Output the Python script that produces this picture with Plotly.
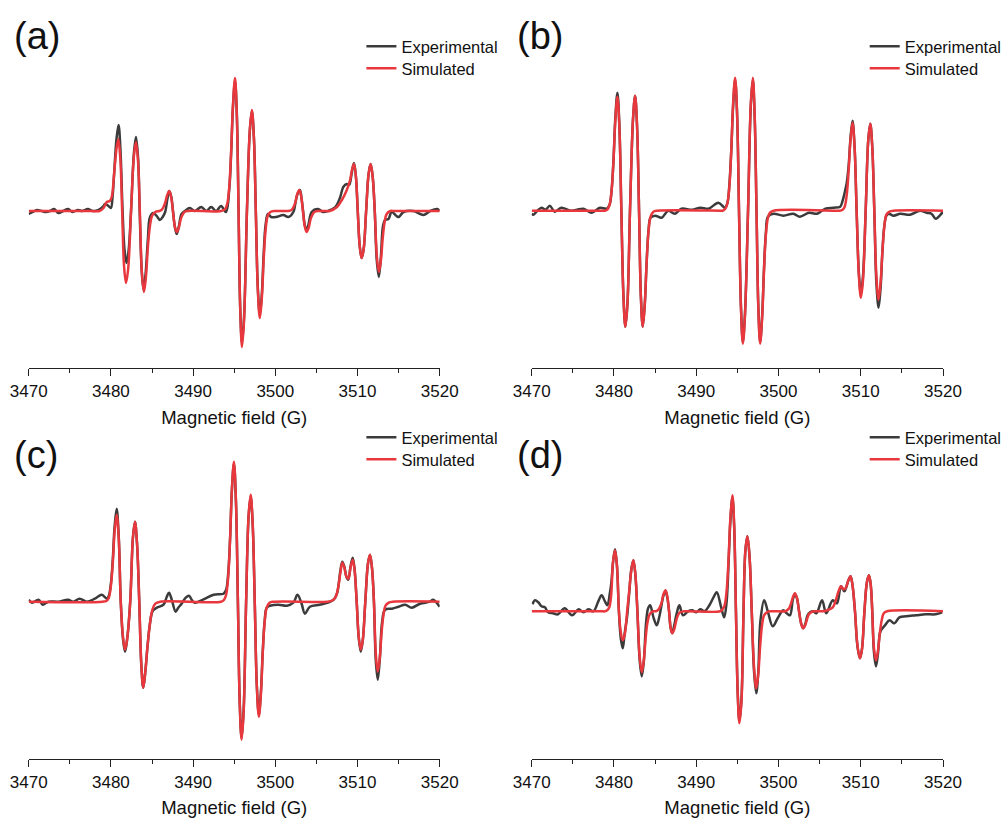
import plotly.graph_objects as go

# ---------------- data (field in G, intensity in a.u.) ----------------
a_exp = [(3470.0, -3), (3470.5, -1), (3471.0, 1), (3471.6, 0), (3472.1, -1), (3472.6, 0), (3473.1, 2),
         (3473.6, -2), (3474.2, 0), (3474.8, 2), (3475.3, -1), (3476.0, 1), (3476.5, 0), (3477.2, 2),
         (3477.8, 0), (3478.5, 1), (3479.0, 4), (3479.3, 7), (3479.7, 5), (3480.0, 3), (3480.2, 14),
         (3480.43, 42), (3480.68, 72), (3480.93, 86), (3481.17, 60), (3481.4, 5), (3481.65, -38),
         (3481.9, -52), (3482.15, -40), (3482.45, 0), (3482.8, 58), (3483.05, 74), (3483.3, 54),
         (3483.5, 0), (3483.75, -60), (3483.98, -79), (3484.23, -62), (3484.5, -28), (3484.76, -6),
         (3485.16, -2), (3485.57, -5), (3485.97, -9), (3486.3, -6), (3486.6, -1), (3486.87, 12),
         (3487.1, 20), (3487.35, 14), (3487.55, 0), (3487.78, -16), (3488.0, -23), (3488.25, -16),
         (3488.6, -3), (3489.0, 0), (3489.6, 3), (3490.2, 0), (3491.0, 4), (3491.6, 0), (3492.2, 4),
         (3492.8, 0), (3493.4, 5), (3494.0, -1), (3494.4, 22), (3494.63, 58), (3494.85, 104),
         (3495.1, 130), (3495.33, 95), (3495.53, 0), (3495.73, -97), (3495.95, -132), (3496.2, -106),
         (3496.55, 0), (3496.9, 80), (3497.15, 100), (3497.4, 73), (3497.63, 0), (3497.87, -76),
         (3498.12, -104), (3498.37, -82), (3498.59, -42), (3498.82, -14), (3499.1, -3), (3499.5, -6),
         (3500.1, -6), (3500.97, -4), (3501.6, -6), (3502.2, -1), (3502.45, 8), (3502.7, 17),
         (3503.0, 21), (3503.2, 12), (3503.38, 0), (3503.58, -14), (3503.8, -19), (3504.05, -13),
         (3504.43, -1), (3505.2, 2), (3505.8, -1), (3506.4, 0), (3507.3, 4), (3507.9, 14),
         (3508.27, 24), (3508.7, 27), (3508.98, 26), (3509.3, 38), (3509.57, 48), (3509.8, 35),
         (3510.03, 0), (3510.27, -35), (3510.5, -47), (3510.75, -38), (3511.05, 0), (3511.35, 37),
         (3511.6, 47), (3511.85, 34), (3512.1, 0), (3512.35, -50), (3512.6, -66), (3512.85, -45),
         (3513.1, -15), (3513.35, -9), (3513.76, -8), (3514.16, -1), (3514.97, -6), (3515.6, -1),
         (3516.8, 0), (3518.05, -4), (3518.85, 0), (3519.7, 2), (3520.0, 0)]
a_sim = [(3470, 0), (3477.5, 0), (3478.6, 0), (3479.1, 3), (3479.5, 9), (3479.85, 10), (3480.1, 14),
         (3480.4, 38), (3480.65, 60), (3480.9, 72), (3481.15, 52), (3481.37, 0), (3481.6, -55),
         (3481.84, -72), (3482.1, -58), (3482.45, 0), (3482.8, 55), (3483.05, 69), (3483.3, 50),
         (3483.52, 0), (3483.77, -62), (3484.02, -81), (3484.27, -65), (3484.5, -36), (3484.75, -15),
         (3485.0, -5), (3485.4, -1), (3485.9, 0), (3486.15, 1), (3486.4, 4), (3486.63, 9), (3486.85, 16),
         (3487.1, 20), (3487.33, 14), (3487.55, 0), (3487.77, -15), (3488.0, -21), (3488.25, -17),
         (3488.47, -9), (3488.7, -4), (3488.95, -1), (3489.4, 0), (3493.4, 0), (3493.9, 2),
         (3494.15, 7), (3494.4, 24), (3494.63, 60), (3494.85, 106), (3495.1, 133), (3495.31, 97),
         (3495.53, 0), (3495.74, -99), (3495.95, -136), (3496.2, -109), (3496.55, 0), (3496.9, 81),
         (3497.15, 101), (3497.39, 74), (3497.63, 0), (3497.87, -78), (3498.12, -107), (3498.37, -86),
         (3498.59, -48), (3498.82, -19), (3499.07, -5), (3499.4, -1), (3500.0, 0), (3501.5, 0),
         (3501.97, 1), (3502.22, 4), (3502.45, 9), (3502.67, 17), (3502.92, 21), (3503.14, 15),
         (3503.36, 0), (3503.58, -15), (3503.8, -21), (3504.05, -17), (3504.27, -9), (3504.5, -4),
         (3504.75, -1), (3505.2, 0), (3506.0, 0), (3506.6, 0), (3507.5, 4), (3508.1, 11), (3508.7, 21),
         (3509.1, 31), (3509.35, 42), (3509.57, 47), (3509.8, 35), (3510.03, 0), (3510.27, -35),
         (3510.5, -47), (3510.75, -38), (3511.05, 0), (3511.35, 37), (3511.6, 47), (3511.85, 34),
         (3512.1, 0), (3512.35, -45), (3512.6, -61), (3512.85, -49), (3513.07, -27), (3513.3, -11),
         (3513.55, -3), (3514.0, 0), (3514.5, 0), (3520, 0)]

b_exp = [(3470.0, -3), (3470.2, -4), (3470.7, 0), (3471.2, 3), (3471.7, 1), (3472.2, 5), (3472.8, -1),
         (3473.6, 3), (3474.7, 0), (3475.5, 1), (3476.3, 2), (3477.3, -2), (3478.3, 3), (3479.1, 2),
         (3479.47, 6), (3479.72, 21), (3479.95, 52), (3480.17, 93), (3480.42, 118), (3480.66, 85),
         (3480.9, 0), (3481.15, -85), (3481.39, -116), (3481.64, -93), (3481.95, 0), (3482.32, 92),
         (3482.57, 115), (3482.81, 84), (3483.05, 0), (3483.27, -85), (3483.5, -116), (3483.75, -93),
         (3483.97, -52), (3484.2, -20), (3484.45, -7), (3485.0, -5), (3485.8, -7), (3486.6, 0),
         (3487.4, -3), (3488.2, 2), (3489.5, 1), (3490.5, 3), (3491.5, 2), (3492.7, 8), (3493.5, 3),
         (3493.8, 8), (3494.03, 26), (3494.26, 60), (3494.48, 104), (3494.73, 131), (3494.97, 96),
         (3495.2, 0), (3495.44, -96), (3495.67, -131), (3495.92, -104), (3496.3, 0), (3496.63, 104),
         (3496.88, 131), (3497.1, 96), (3497.33, 0), (3497.55, -96), (3497.77, -131), (3498.02, -104),
         (3498.24, -58), (3498.47, -22), (3498.72, -6), (3499.4, -3), (3500.6, -5), (3501.8, -3),
         (3502.6, -6), (3503.7, -2), (3504.7, -3), (3505.7, 2), (3506.7, 3), (3507.5, 4), (3507.8, 10),
         (3508.1, 20), (3508.3, 28), (3508.53, 45), (3508.75, 72), (3509.0, 90), (3509.25, 64),
         (3509.5, 0), (3509.77, -62), (3510.02, -83), (3510.27, -66), (3510.6, 0), (3510.91, 70),
         (3511.16, 87), (3511.4, 64), (3511.65, 0), (3511.9, -72), (3512.17, -97), (3512.42, -76),
         (3512.64, -40), (3512.87, -15), (3513.12, -5), (3513.4, -3), (3514.0, -5), (3514.8, -3),
         (3516.0, -4), (3517.2, 0), (3518.0, -2), (3518.6, -3), (3519.1, -8), (3519.9, -2),
         (3520.0, -1)]
b_sim = [(3470, 0), (3478.3, 0), (3478.9, 0), (3479.2, 1), (3479.47, 6), (3479.72, 21), (3479.95, 51),
         (3480.17, 91), (3480.42, 114), (3480.66, 83), (3480.9, 0), (3481.15, -85), (3481.39, -116),
         (3481.64, -93), (3481.95, 0), (3482.32, 92), (3482.57, 115), (3482.81, 84), (3483.05, 0),
         (3483.27, -85), (3483.5, -116), (3483.75, -93), (3483.97, -52), (3484.2, -21), (3484.45, -6),
         (3484.8, -1), (3485.3, 0), (3492.9, 0), (3493.2, 0), (3493.53, 2), (3493.78, 7), (3494.03, 24),
         (3494.26, 60), (3494.48, 106), (3494.73, 133), (3494.97, 97), (3495.2, 0), (3495.44, -97),
         (3495.67, -133), (3495.92, -106), (3496.3, 0), (3496.63, 106), (3496.88, 133), (3497.1, 97),
         (3497.33, 0), (3497.55, -97), (3497.77, -133), (3498.02, -106), (3498.24, -60), (3498.47, -24),
         (3498.72, -7), (3498.97, -2), (3499.4, 0), (3507.0, 0), (3507.4, 0), (3507.8, 1), (3508.05, 4),
         (3508.3, 16), (3508.53, 40), (3508.75, 70), (3509.0, 88), (3509.25, 64), (3509.5, 0),
         (3509.77, -64), (3510.02, -87), (3510.27, -70), (3510.6, 0), (3510.91, 70), (3511.16, 87),
         (3511.4, 64), (3511.65, 0), (3511.9, -65), (3512.17, -89), (3512.42, -71), (3512.64, -40),
         (3512.87, -16), (3513.12, -4), (3513.5, -1), (3514.0, 0), (3520, 0)]

c_exp = [(3470.0, 2), (3470.4, -1), (3471.2, 2), (3471.7, -3), (3472.4, 0), (3473.6, 0), (3474.8, 2),
         (3475.4, 0), (3476.2, 3), (3477.05, 0), (3478.05, 3), (3478.9, 7), (3479.5, 3), (3479.75, 6),
         (3480.0, 18), (3480.23, 42), (3480.45, 75), (3480.7, 93), (3480.95, 66), (3481.2, 0),
         (3481.47, -37), (3481.72, -50), (3481.97, -38), (3482.35, 0), (3482.68, 64), (3482.93, 80),
         (3483.18, 58), (3483.45, 0), (3483.7, -63), (3483.94, -86), (3484.2, -69), (3484.45, -45),
         (3484.75, -22), (3485.1, -9), (3485.6, -6), (3486.4, -3), (3486.8, 5), (3487.07, 9),
         (3487.4, 2), (3487.88, -10), (3488.2, -6), (3488.6, -2), (3489.1, 4), (3489.5, 6), (3489.9, 1),
         (3490.2, -1), (3491.2, 2), (3492.5, 7), (3493.7, 8), (3494.02, 12), (3494.27, 28),
         (3494.5, 63), (3494.72, 112), (3494.97, 138), (3495.21, 100), (3495.45, 0), (3495.67, -100),
         (3495.9, -136), (3496.15, -108), (3496.45, 0), (3496.75, 85), (3497.0, 105), (3497.25, 77),
         (3497.5, 0), (3497.75, -83), (3498.0, -113), (3498.25, -90), (3498.47, -50), (3498.7, -20),
         (3498.95, -6), (3499.35, -4), (3500.4, -3), (3501.4, -4), (3502.2, -1), (3502.7, 7),
         (3503.2, -2), (3503.6, -12), (3504.2, -5), (3505.4, -3), (3506.4, -1), (3507.1, 2),
         (3507.5, 8), (3507.9, 30), (3508.15, 40), (3508.4, 35), (3508.65, 25), (3508.88, 22),
         (3509.15, 35), (3509.42, 44), (3509.65, 32), (3509.9, 0), (3510.15, -36), (3510.4, -50),
         (3510.65, -38), (3510.95, 0), (3511.27, 38), (3511.52, 47), (3511.76, 34), (3512.0, 0),
         (3512.22, -58), (3512.46, -78), (3512.71, -58), (3513.0, -20), (3513.35, -8), (3514.2, -7),
         (3515.0, -5), (3515.8, -3), (3516.6, -6), (3517.6, -2), (3518.8, 0), (3519.2, 2), (3520.0, -5)]
c_sim = [(3470, 0), (3479.0, 0), (3479.5, 1), (3479.75, 4), (3480.0, 16), (3480.23, 39), (3480.45, 70),
         (3480.7, 87), (3480.95, 64), (3481.2, 0), (3481.47, -35), (3481.72, -48), (3481.97, -38),
         (3482.35, 0), (3482.68, 64), (3482.93, 80), (3483.18, 58), (3483.45, 0), (3483.7, -63),
         (3483.94, -86), (3484.2, -69), (3484.45, -45), (3484.75, -22), (3485.05, -8), (3485.4, -2),
         (3486.0, 0), (3493.4, 0), (3493.77, 2), (3494.02, 7), (3494.27, 25), (3494.5, 63),
         (3494.72, 112), (3494.97, 140), (3495.21, 102), (3495.45, 0), (3495.67, -101), (3495.9, -138),
         (3496.15, -110), (3496.45, 0), (3496.75, 86), (3497.0, 107), (3497.25, 78), (3497.5, 0),
         (3497.75, -84), (3498.0, -115), (3498.25, -92), (3498.47, -52), (3498.7, -21), (3498.95, -6),
         (3499.3, -1), (3499.8, 0), (3506.3, 0), (3506.9, 1), (3507.3, 4), (3507.6, 12), (3507.9, 28),
         (3508.15, 39), (3508.4, 34), (3508.65, 25), (3508.88, 23), (3509.15, 34), (3509.42, 42),
         (3509.65, 31), (3509.9, 0), (3510.15, -35), (3510.4, -48), (3510.65, -38), (3510.95, 0),
         (3511.27, 38), (3511.52, 47), (3511.76, 34), (3512.0, 0), (3512.22, -51), (3512.46, -70),
         (3512.71, -56), (3512.93, -31), (3513.16, -13), (3513.41, -4), (3513.8, -1), (3514.3, 0),
         (3520, 0)]

d_exp = [(3470.1, 7), (3470.4, 11), (3470.8, 9), (3471.2, 5), (3471.6, 4), (3472.0, -1), (3472.6, -2),
         (3473.2, -3), (3474.0, 3), (3474.9, -4), (3475.7, 2), (3476.3, -1), (3476.9, 2), (3477.5, 0),
         (3478.1, 10), (3478.5, 16), (3478.9, 10), (3479.2, 6), (3479.5, 18), (3479.7, 30),
         (3479.9, 50), (3480.13, 62), (3480.37, 45), (3480.6, 0), (3480.83, -27), (3481.07, -37),
         (3481.3, -22), (3481.6, -5), (3481.85, 18), (3482.11, 42), (3482.36, 51), (3482.6, 37),
         (3482.85, 0), (3483.12, -48), (3483.38, -65), (3483.63, -50), (3483.9, -12), (3484.15, 3),
         (3484.4, 6), (3484.8, -6), (3485.2, -14), (3485.5, -6), (3485.8, 7), (3486.02, 16),
         (3486.27, 20), (3486.48, 14), (3486.7, 0), (3486.88, -16), (3487.08, -22), (3487.33, -14),
         (3487.6, -3), (3487.95, 6), (3488.4, -4), (3489.0, 0), (3489.5, 1), (3490.0, -1), (3490.5, 2),
         (3491.0, 0), (3491.6, 6), (3492.1, 14), (3492.5, 19), (3493.0, 5), (3493.4, -6), (3493.7, 10),
         (3493.93, 48), (3494.15, 90), (3494.4, 114), (3494.62, 83), (3494.83, 0), (3495.04, -80),
         (3495.25, -110), (3495.5, -88), (3495.75, 0), (3495.97, 60), (3496.22, 75), (3496.48, 55),
         (3496.75, 0), (3497.03, -60), (3497.3, -82), (3497.55, -60), (3497.8, -10), (3498.26, 11),
         (3498.7, 0), (3499.3, -15), (3499.9, -7), (3500.57, 1), (3501.0, -2), (3501.4, -4),
         (3501.75, 12), (3502.0, 17), (3502.25, 13), (3502.5, 0), (3502.75, -12), (3503.0, -17),
         (3503.25, -13), (3503.6, -3), (3504.2, 0), (3504.6, -2), (3505.3, 11), (3505.8, -2),
         (3506.6, 11), (3507.1, 8), (3507.6, 25), (3508.0, 20), (3508.2, 23), (3508.5, 31),
         (3508.76, 35), (3509.0, 26), (3509.3, 0), (3509.6, -35), (3509.9, -47), (3510.15, -38),
         (3510.45, 0), (3510.75, 29), (3511.0, 36), (3511.22, 26), (3511.4, 0), (3511.6, -40),
         (3511.85, -55), (3512.1, -42), (3512.4, -20), (3512.95, -14), (3513.5, -9), (3514.1, -12),
         (3514.7, -6), (3515.5, -5), (3516.7, -4), (3517.9, -3), (3519.1, -3), (3519.9, -1)]
d_sim = [(3470, 0), (3478.4, 0), (3478.9, 0), (3479.18, 1), (3479.43, 4), (3479.66, 16), (3479.88, 49),
         (3480.13, 61), (3480.37, 45), (3480.6, 0), (3480.83, -21), (3481.07, -29), (3481.32, -23),
         (3481.6, 0), (3481.85, 20), (3482.11, 41), (3482.36, 51), (3482.6, 37), (3482.85, 0),
         (3483.12, -45), (3483.38, -61), (3483.63, -49), (3483.85, -27), (3484.08, -11), (3484.33, -3),
         (3484.7, 0), (3485.1, 0), (3485.32, 1), (3485.57, 4), (3485.8, 9), (3486.02, 17),
         (3486.27, 21), (3486.48, 15), (3486.7, 0), (3486.88, -16), (3487.08, -22), (3487.33, -18),
         (3487.55, -10), (3487.78, -4), (3488.03, -1), (3488.5, 0), (3492.9, 0), (3493.2, 2),
         (3493.45, 6), (3493.7, 21), (3493.93, 52), (3494.15, 93), (3494.4, 116), (3494.62, 85),
         (3494.83, 0), (3495.04, -82), (3495.25, -112), (3495.5, -90), (3495.75, 0), (3495.97, 60),
         (3496.22, 75), (3496.48, 55), (3496.75, 0), (3497.03, -56), (3497.3, -77), (3497.55, -62),
         (3497.77, -35), (3498.0, -14), (3498.25, -4), (3498.6, -1), (3499.0, 0), (3500.8, 0),
         (3501.05, 1), (3501.3, 3), (3501.53, 8), (3501.75, 14), (3502.0, 18), (3502.25, 13),
         (3502.5, 0), (3502.75, -12), (3503.0, -17), (3503.25, -14), (3503.47, -8), (3503.7, -3),
         (3503.95, -1), (3504.4, 0), (3505.4, 0), (3505.9, 1), (3506.6, 4), (3507.0, 12), (3507.3, 20),
         (3507.6, 25), (3507.9, 22), (3508.15, 23), (3508.5, 31), (3508.76, 35), (3509.0, 26),
         (3509.3, 0), (3509.6, -34), (3509.9, -47), (3510.15, -38), (3510.45, 0), (3510.75, 29),
         (3511.0, 36), (3511.22, 26), (3511.4, 0), (3511.6, -36), (3511.85, -49), (3512.1, -39),
         (3512.32, -22), (3512.55, -9), (3512.8, -2), (3513.2, 0), (3520, 0)]

panel_labels = ["(a)", "(b)", "(c)", "(d)"]
series_names = ["Experimental", "Simulated"]
x_ticks = [3470, 3480, 3490, 3500, 3510, 3520]
x_title = "Magnetic field (G)"

# ---------------- layout helpers (pixel geometry of the page) ----------------
W, H = 1008, 818
FONT = "Liberation Sans, Arial, sans-serif"
EXP_COLOR = "#3b3b3b"
SIM_COLOR = "#e8383d"


def px(x):
    return x / W


def py(y):
    return 1 - y / H


# panel geometry: (x_left, x_right, y_axis_line, y_top, baseline_y, legend_top, label_center_y)
panels = [
    (28.7, 439.7, 368.0, 20.0, 211.0, 29.0, 36.0),
    (531.7, 943.0, 368.0, 20.0, 210.7, 29.0, 36.0),
    (28.7, 439.7, 759.3, 415.0, 601.7, 420.0, 455.0),
    (531.7, 943.0, 759.3, 415.0, 611.3, 420.0, 455.0),
]
data = [(a_exp, a_sim), (b_exp, b_sim), (c_exp, c_sim), (d_exp, d_sim)]

fig = go.Figure()
layout = {}
annotations = []
for i, ((xl, xr, yax, ytop, base, legtop, laby), (exp, sim)) in enumerate(zip(panels, data)):
    n = "" if i == 0 else str(i + 1)
    for k, (name, series, color) in enumerate(((series_names[0], exp, EXP_COLOR),
                                               (series_names[1], sim, SIM_COLOR))):
        li = 2 * i + k + 1
        leg = "legend" if li == 1 else "legend" + str(li)
        fig.add_trace(go.Scatter(
            x=[p[0] for p in series], y=[p[1] for p in series],
            mode="lines", name=name, legend=leg,
            line=dict(color=color, width=2.5, shape="spline", smoothing=1.0),
            xaxis="x" + n, yaxis="y" + n, showlegend=True,
        ))
        layout[leg] = dict(
            x=px(xr - 78.3), y=py(legtop + 22 * k), xanchor="left", yanchor="top",
            bgcolor="rgba(0,0,0,0)", font=dict(family=FONT, size=16.5, color="#111"),
            itemwidth=30, borderwidth=0,
        )
    layout["xaxis" + n] = dict(
        domain=[px(xl), px(xr)], anchor="y" + n, range=[3470, 3520],
        tickvals=x_ticks, ticks="outside", ticklen=7, tickwidth=1.2, tickcolor="#222",
        minor=dict(dtick=5, tick0=3470, ticks="outside", ticklen=4, tickwidth=1.2, tickcolor="#222"),
        showline=True, linecolor="#222", linewidth=1.3, showgrid=False, zeroline=False,
        tickfont=dict(family=FONT, size=17, color="#111"),
        title=dict(text=x_title, font=dict(family=FONT, size=18.5, color="#111"), standoff=11),
    )
    layout["yaxis" + n] = dict(
        domain=[py(yax), py(ytop)], anchor="x" + n,
        range=[base - yax, base - ytop], visible=False, fixedrange=True,
    )
    annotations.append(dict(
        text=panel_labels[i], xref="paper", yref="paper",
        x=px(xl - 17), y=py(laby), xanchor="left", yanchor="middle",
        showarrow=False, font=dict(family=FONT, size=38, color="#111"),
    ))

fig.update_layout(
    width=W, height=H, margin=dict(l=0, r=0, t=0, b=0, autoexpand=False),
    paper_bgcolor="white", plot_bgcolor="white",
    annotations=annotations, **layout,
)
fig.write_html("out.html")
